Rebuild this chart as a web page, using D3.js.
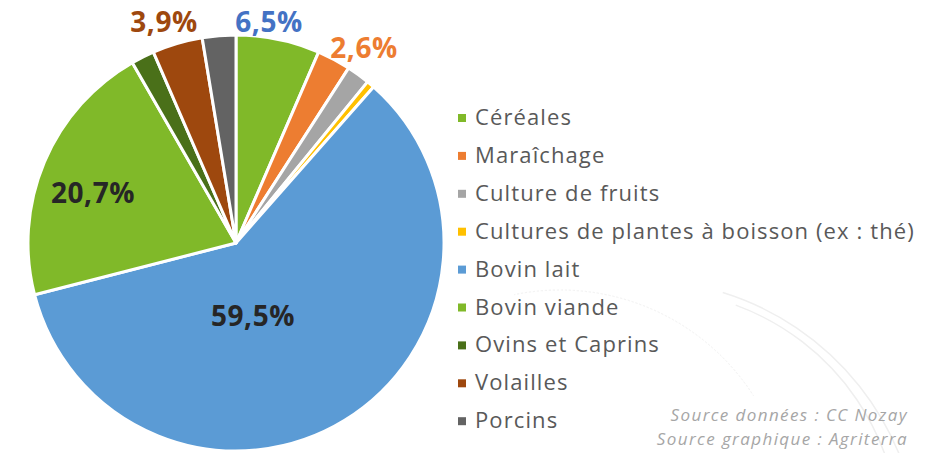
<!DOCTYPE html>
<html>
<head>
<meta charset="utf-8">
<script src="https://cdn.jsdelivr.net/npm/d3@7"></script>
<style>
  body { margin: 0; background: #fff; }
  svg { display: block; }
</style>
</head>
<body>
<div id="pieChart"></div>
<script>
// data (percent of farms, clockwise from 12 o'clock)
const categories = ["Céréales", "Maraîchage", "Culture de fruits", "Cultures de plantes à boisson (ex : thé)",
  "Bovin lait", "Bovin viande", "Ovins et Caprins", "Volailles", "Porcins"];
const values = [6.5, 2.6, 1.8, 0.6, 59.5, 20.7, 1.8, 3.9, 2.6];
const colors = ["#80b929", "#ed7d31", "#a5a5a5", "#ffc000", "#5b9bd5", "#80b929", "#4a7019", "#9e480e", "#636363"];
// which slices get a printed value
const shownLabels = ["Céréales", "Maraîchage", "Bovin lait", "Bovin viande", "Volailles"];
const sourceLines = ["Source données : CC Nozay", "Source graphique : Agriterra"];

const width = 925, height = 453;
const cx = 236, cy = 243, radius = 208;

const data = categories.map((c, i) => ({ name: c, value: values[i], color: colors[i] }));

const svg = d3.select("#pieChart").append("svg")
  .attr("width", width)
  .attr("height", height);

// faint decorative arcs in the background
const deco = svg.append("g").attr("fill", "none").attr("stroke", "#efefef");
deco.append("path").attr("stroke-width", 1.5)
  .attr("d", d3.arc()({ innerRadius: 250, outerRadius: 250, startAngle: 0.35, endAngle: 1.6 }))
  .attr("transform", "translate(650,540)");
deco.append("path").attr("stroke-width", 1.5)
  .attr("d", d3.arc()({ innerRadius: 280, outerRadius: 280, startAngle: 0.3, endAngle: 1.5 }))
  .attr("transform", "translate(640,560)");
deco.append("path").attr("stroke-dasharray", "1,3")
  .attr("d", d3.arc()({ innerRadius: 230, outerRadius: 230, startAngle: -0.2, endAngle: 1.0 }))
  .attr("transform", "translate(560,520)");

const pie = d3.pie().sort(null).value(d => d.value);
const arcs = pie(data);
const arc = d3.arc().innerRadius(0).outerRadius(radius);

const g = svg.append("g").attr("transform", "translate(" + cx + "," + cy + ")");
g.selectAll("path.slice")
  .data(arcs)
  .enter().append("path")
  .attr("class", "slice")
  .attr("d", arc)
  .attr("fill", d => d.data.color)
  .attr("stroke", "#fff")
  .attr("stroke-width", 3)
  .attr("stroke-linejoin", "round");

// value labels, placed where the original puts them (offsets from the pie centre)
const labelPos = {
  "Céréales": [33, -211], "Maraîchage": [128, -185], "Volailles": [-72, -211],
  "Bovin viande": [-143, -40], "Bovin lait": [17, 83]
};
const labelColors = { "Céréales": "#4472c4", "Maraîchage": "#ed7d31", "Volailles": "#9e480e" };

g.selectAll("text.val")
  .data(arcs.filter(d => shownLabels.includes(d.data.name)))
  .enter().append("text")
  .attr("class", "val")
  .attr("transform", d => "translate(" + labelPos[d.data.name][0] + "," + labelPos[d.data.name][1] + ")")
  .attr("text-anchor", "middle")
  .style("font-family", "'Open Sans', sans-serif")
  .style("font-weight", "bold")
  .style("font-size", "28px")
  .style("letter-spacing", "0.6px")
  .attr("fill", d => labelColors[d.data.name] || "#262626")
  .text(d => d3.format(".1f")(d.data.value).replace(".", ",") + "%");

// legend
const legend = svg.append("g").attr("transform", "translate(458,118)");
const row = legend.selectAll("g")
  .data(data)
  .enter().append("g")
  .attr("transform", (d, i) => "translate(0," + (i * 37.9) + ")");
row.append("rect")
  .attr("x", 0).attr("y", -4)
  .attr("width", 8).attr("height", 8)
  .attr("fill", d => d.color);
row.append("text")
  .attr("x", 17)
  .attr("y", 7)
  .style("font-family", "'Open Sans', sans-serif")
  .style("font-size", "22px")
  .style("letter-spacing", "1.1px")
  .attr("fill", "#595959")
  .text(d => d.name);

svg.append("g").selectAll("text")
  .data(sourceLines)
  .enter().append("text")
  .attr("x", 908)
  .attr("y", (d, i) => 421 + i * 24)
  .attr("text-anchor", "end")
  .style("font-family", "'Open Sans', sans-serif")
  .style("font-style", "italic")
  .style("font-size", "17px")
  .style("letter-spacing", "1.4px")
  .attr("fill", "#a6a6a6")
  .text(d => d);
</script>
</body>
</html>
